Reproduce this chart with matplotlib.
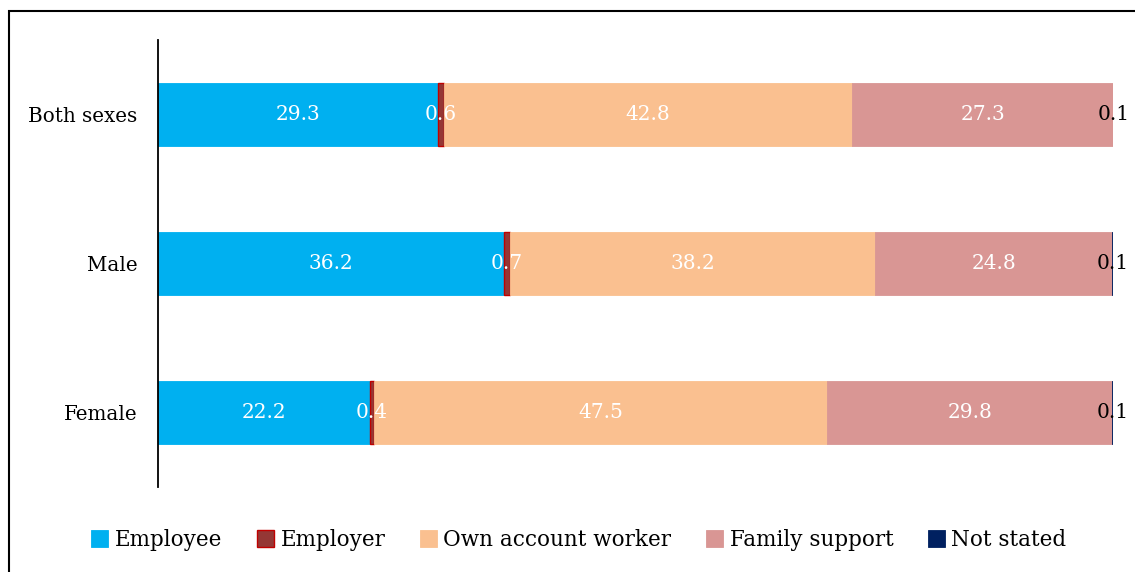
import numpy as np
import matplotlib.pyplot as plt
from matplotlib.patches import Rectangle

# status in employment, percent by sex
categories = ['Both sexes', 'Male', 'Female']
series = ['Employee', 'Employer', 'Own account worker', 'Family support', 'Not stated']
employee = [29.3, 36.2, 22.2]
employer = [0.6, 0.7, 0.4]
own_account = [42.8, 38.2, 47.5]
family_support = [27.3, 24.8, 29.8]
not_stated = [0.1, 0.1, 0.1]

colors = ['#00B0F0', '#953735', '#FAC090', '#D99694', '#002060']
edges = ['#00B0F0', '#C00000', '#FAC090', '#D99694', '#002060']
label_colors = ['white', 'white', 'white', 'white', 'black']

plt.rcParams['font.family'] = ['DejaVu Serif']

fig = plt.figure(figsize=(11.35, 5.72), dpi=100)
ax = fig.add_axes([158 / 1135, 1 - 487 / 572, 955 / 1135, 447 / 572])

# outer frame around the chart area
fig.patches.append(Rectangle((9 / 1135, -0.1), 1.2, 1 - 11 / 572 + 0.1,
                             transform=fig.transFigure, fill=False,
                             edgecolor='black', linewidth=1.5))

data = [employee, employer, own_account, family_support, not_stated]
y = np.arange(len(categories))
left = np.zeros(len(categories))
for name, vals, c, ec, lc in zip(series, data, colors, edges, label_colors):
    vals = np.array(vals)
    ax.barh(y, vals, left=left, height=0.42, color=c, edgecolor=ec,
            linewidth=1.0 if name == 'Employer' else 0.6, label=name)
    for yi, l, v in zip(y, left, vals):
        ax.text(l + v / 2, yi, f'{v:.1f}', ha='center', va='center',
                color=lc, fontsize=14.5)
    left += vals

ax.set_xlim(0, 100)
ax.set_ylim(2.5, -0.5)
ax.set_yticks(y)
ax.set_yticklabels(categories, fontsize=14.3)
ax.tick_params(axis='y', length=0, pad=15)
ax.set_xticks([])
for s in ['top', 'right', 'bottom']:
    ax.spines[s].set_visible(False)
ax.spines['left'].set_linewidth(1.3)

handles, labels = ax.get_legend_handles_labels()
fig.legend(handles, labels, loc='center', bbox_to_anchor=(0.51, 1 - 540 / 572),
           ncol=5, frameon=False, fontsize=15.5, handlelength=0.8,
           handleheight=0.8, handletextpad=0.3, columnspacing=1.6)

fig.savefig('out.png', dpi=100)
